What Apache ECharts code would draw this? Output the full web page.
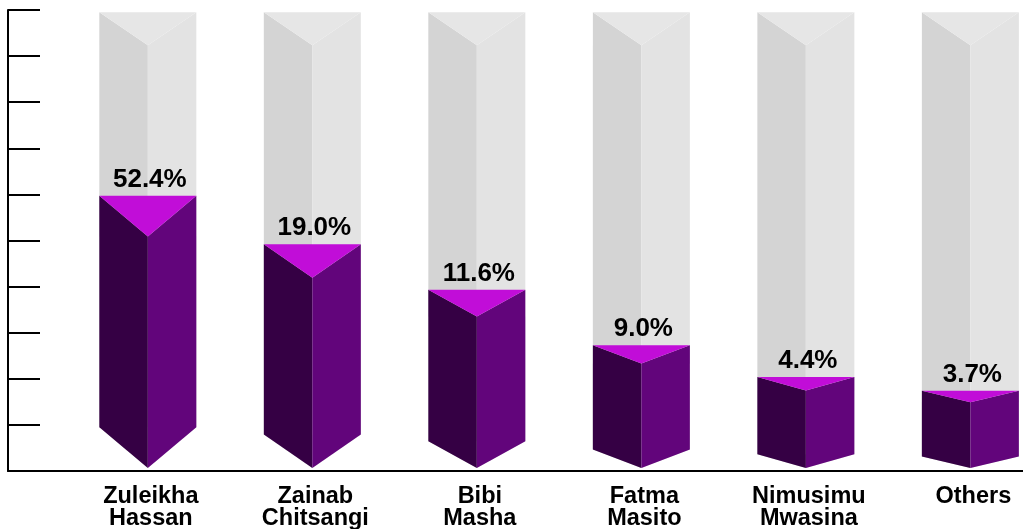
<!DOCTYPE html>
<html>
<head>
<meta charset="utf-8">
<script src="https://cdn.jsdelivr.net/npm/echarts@6/dist/echarts.min.js"></script>
<style>
  html, body { margin: 0; padding: 0; background: #fff; }
  #chart { width: 1023px; height: 529px; }
</style>
</head>
<body>
<div id="chart"></div>
<script>
// categories and values
var names = ['Zuleikha\nHassan', 'Zainab\nChitsangi', 'Bibi\nMasha', 'Fatma\nMasito', 'Nimusimu\nMwasina', 'Others'];
var shares = [52.4, 19.0, 11.6, 9.0, 4.4, 3.7];
// visual fill height of each prism on the 0-100 axis
var fillLevel = [59.7, 49.2, 39.3, 27.3, 20.4, 17.4];
var BG_LEVEL = 99.5;

var FONT = '"Liberation Sans", Arial, sans-serif';
var grayCols = ['#d4d4d4', '#e3e3e3', '#e6e6e6'];
var purpleCols = ['#350044', '#62057b', '#c10dd8'];

function prism(x, hw, t, dt, base, db, cols) {
  return [
    { type: 'polygon', shape: { points: [[x - hw, t], [x, t + dt], [x, base], [x - hw, base - db]] }, style: { fill: cols[0] } },
    { type: 'polygon', shape: { points: [[x + hw, t], [x, t + dt], [x, base], [x + hw, base - db]] }, style: { fill: cols[1] } },
    { type: 'polygon', shape: { points: [[x - hw, t], [x + hw, t], [x, t + dt]] }, style: { fill: cols[2] } }
  ];
}

function renderBar(params, api) {
  var i = api.value(0);
  var c = api.coord([i, api.value(1)]);
  var x = c[0], top = c[1];
  var base = api.coord([i, 0])[1] - 3;
  var bgTop = api.coord([i, BG_LEVEL])[1];
  var hw = 48.5;
  var d = (base - top) * 0.15;

  var kids = prism(x, hw, bgTop, 33, base, d, grayCols)
    .concat(prism(x, hw, top, d, base, d, purpleCols));

  kids.push({
    type: 'text',
    style: {
      text: shares[i].toFixed(1) + '%', x: x + 2, y: top - 3,
      fill: '#000', font: 'bold 26px ' + FONT,
      align: 'center', verticalAlign: 'bottom'
    }
  });
  kids.push({
    type: 'text',
    style: {
      text: names[i], x: x + 3, y: 486,
      fill: '#000', font: 'bold 23.5px ' + FONT, lineHeight: 22,
      align: 'center', verticalAlign: 'top'
    }
  });
  return { type: 'group', children: kids };
}

var chart = echarts.init(document.getElementById('chart'));
chart.setOption({
  animation: false,
  grid: { left: 8, right: 0, top: 10, bottom: 58 },
  xAxis: {
    type: 'value', min: -0.85, max: 5.32,
    axisLine: { show: true, onZero: false, lineStyle: { color: '#000', width: 2 } },
    axisTick: { show: false },
    axisLabel: { show: false },
    splitLine: { show: false }
  },
  yAxis: {
    type: 'value', min: 0, max: 100, interval: 10,
    axisLine: { show: true, onZero: false, lineStyle: { color: '#000', width: 2 } },
    axisTick: { show: true, inside: true, length: 32, lineStyle: { color: '#000', width: 2 } },
    axisLabel: { show: false },
    splitLine: { show: false }
  },
  series: [{
    type: 'custom',
    clip: false,
    renderItem: renderBar,
    data: fillLevel.map(function (v, i) { return [i, v]; })
  }]
});
</script>
</body>
</html>
